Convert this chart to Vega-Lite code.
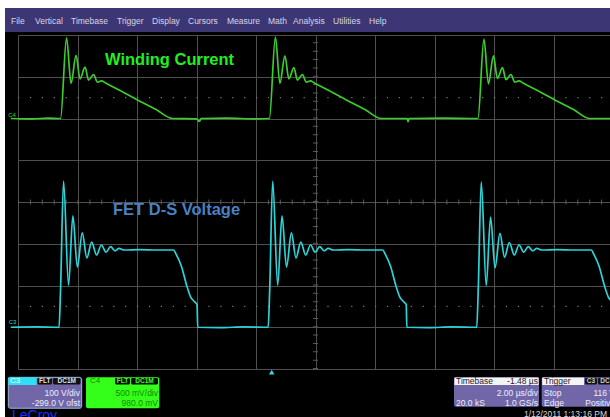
{
"$schema": "https://vega.github.io/schema/vega-lite/v6.json",
"width": 592, "height": 334,
"autosize": "none",
"padding": {"left": 18, "top": 35, "right": 0, "bottom": 48},
"background": "#000000",
"config": {"view": {"stroke": null}, "font": "Liberation Sans", "text": {"font": "Liberation Sans"}},
"data": {"values": [{}]},
"layer": [
{"mark": {"type": "rect", "color": "#ffffff"}, "encoding": {"x": {"datum": -0.61}, "x2": {"datum": -0.437}, "y": {"datum": 8.84}, "y2": {"datum": -1.16}}},
{"mark": {"type": "rect", "color": "#ffffff"}, "encoding": {"x": {"datum": -0.61}, "x2": {"datum": 20.6}, "y": {"datum": 8.84}, "y2": {"datum": 8.647}}},
{"mark": {"type": "rect", "color": "#3d3674"}, "encoding": {"x": {"datum": -0.437}, "x2": {"datum": 20.6}, "y": {"datum": 8.647}, "y2": {"datum": 8.072}}},
{"mark": {"type": "rule", "color": "#7a7a7a", "strokeWidth": 1.2, "strokeDash": [1.2, 10.7]}, "encoding": {"x": {"datum": 0}, "x2": {"datum": 19.899}, "y": {"datum": 6.5}}},
{"mark": {"type": "rule", "color": "#7a7a7a", "strokeWidth": 1.2, "strokeDash": [1.2, 10.7]}, "encoding": {"x": {"datum": 0}, "x2": {"datum": 19.899}, "y": {"datum": 1.5}}},
{"mark": {"type": "rule", "color": "#5a5a5a", "strokeWidth": 5, "strokeDash": [1, 10.9]}, "encoding": {"x": {"datum": 0}, "x2": {"datum": 19.899}, "y": {"datum": 4}}},
{"mark": {"type": "rule", "color": "#5a5a5a", "strokeWidth": 5, "strokeDash": [1, 7.35]}, "encoding": {"x": {"datum": 10}, "y": {"datum": 0}, "y2": {"datum": 8}}},
{"data": {"values": [
{"ch":"C4","t":-0.245,"d":6.0},{"ch":"C4","t":0.5,"d":5.99},{"ch":"C4","t":1.0,"d":6.01},{"ch":"C4","t":1.43,"d":6.0},
{"ch":"C4","t":1.632,"d":7.93},{"ch":"C4","t":1.783,"d":6.84},{"ch":"C4","t":1.951,"d":7.51},{"ch":"C4","t":2.085,"d":6.95},{"ch":"C4","t":2.254,"d":7.23},{"ch":"C4","t":2.371,"d":6.92},{"ch":"C4","t":2.539,"d":7.05},{"ch":"C4","t":2.674,"d":6.87},{"ch":"C4","t":2.808,"d":6.9},{"ch":"C4","t":2.943,"d":6.85},{"ch":"C4","t":3.43,"d":6.67},{"ch":"C4","t":4.03,"d":6.44},{"ch":"C4","t":4.63,"d":6.22},{"ch":"C4","t":5.195,"d":6.0},
{"ch":"C4","t":6.0,"d":5.99},{"ch":"C4","t":6.1,"d":5.93},{"ch":"C4","t":6.15,"d":6.0},{"ch":"C4","t":7.0,"d":6.01},{"ch":"C4","t":8.0,"d":5.99},{"ch":"C4","t":8.45,"d":6.0},
{"ch":"C4","t":8.652,"d":7.95},{"ch":"C4","t":8.803,"d":6.84},{"ch":"C4","t":8.971,"d":7.5},{"ch":"C4","t":9.105,"d":6.95},{"ch":"C4","t":9.274,"d":7.22},{"ch":"C4","t":9.391,"d":6.92},{"ch":"C4","t":9.559,"d":7.05},{"ch":"C4","t":9.694,"d":6.87},{"ch":"C4","t":9.828,"d":6.9},{"ch":"C4","t":9.963,"d":6.85},{"ch":"C4","t":10.45,"d":6.67},{"ch":"C4","t":11.05,"d":6.44},{"ch":"C4","t":11.65,"d":6.22},{"ch":"C4","t":12.215,"d":6.0},
{"ch":"C4","t":13.08,"d":6.0},{"ch":"C4","t":13.11,"d":5.92},{"ch":"C4","t":13.14,"d":6.0},{"ch":"C4","t":14.3,"d":6.01},{"ch":"C4","t":15.46,"d":6.0},
{"ch":"C4","t":15.662,"d":7.9},{"ch":"C4","t":15.813,"d":6.83},{"ch":"C4","t":15.981,"d":7.5},{"ch":"C4","t":16.115,"d":6.96},{"ch":"C4","t":16.284,"d":7.22},{"ch":"C4","t":16.401,"d":6.93},{"ch":"C4","t":16.569,"d":7.05},{"ch":"C4","t":16.704,"d":6.87},{"ch":"C4","t":16.838,"d":6.9},{"ch":"C4","t":16.973,"d":6.85},{"ch":"C4","t":17.46,"d":6.67},{"ch":"C4","t":18.06,"d":6.44},{"ch":"C4","t":18.66,"d":6.22},{"ch":"C4","t":19.225,"d":6.0},{"ch":"C4","t":19.9,"d":6.0},
{"ch":"C3","t":-0.245,"d":1.0},{"ch":"C3","t":0.6,"d":1.01},{"ch":"C3","t":1.38,"d":1.0},
{"ch":"C3","t":1.43,"d":1.89},{"ch":"C3","t":1.531,"d":4.5},{"ch":"C3","t":1.699,"d":2.01},{"ch":"C3","t":1.844,"d":3.67},{"ch":"C3","t":1.995,"d":2.44},{"ch":"C3","t":2.16,"d":3.26},{"ch":"C3","t":2.314,"d":2.66},{"ch":"C3","t":2.476,"d":3.04},{"ch":"C3","t":2.641,"d":2.73},{"ch":"C3","t":2.802,"d":2.97},{"ch":"C3","t":2.96,"d":2.8},{"ch":"C3","t":3.111,"d":2.93},{"ch":"C3","t":3.262,"d":2.83},{"ch":"C3","t":3.397,"d":2.89},{"ch":"C3","t":3.565,"d":2.85},{"ch":"C3","t":4.08,"d":2.86},{"ch":"C3","t":4.68,"d":2.85},{"ch":"C3","t":5.229,"d":2.85},{"ch":"C3","t":5.313,"d":2.75},{"ch":"C3","t":5.498,"d":2.45},{"ch":"C3","t":5.666,"d":2.01},{"ch":"C3","t":5.8,"d":1.73},{"ch":"C3","t":5.935,"d":1.61},{"ch":"C3","t":6.02,"d":1.54},{"ch":"C3","t":6.04,"d":1.0},
{"ch":"C3","t":6.8,"d":0.99},{"ch":"C3","t":7.6,"d":1.01},{"ch":"C3","t":8.41,"d":1.0},
{"ch":"C3","t":8.46,"d":1.89},{"ch":"C3","t":8.561,"d":4.5},{"ch":"C3","t":8.729,"d":2.01},{"ch":"C3","t":8.874,"d":3.67},{"ch":"C3","t":9.025,"d":2.44},{"ch":"C3","t":9.19,"d":3.26},{"ch":"C3","t":9.344,"d":2.66},{"ch":"C3","t":9.506,"d":3.04},{"ch":"C3","t":9.671,"d":2.73},{"ch":"C3","t":9.832,"d":2.97},{"ch":"C3","t":9.99,"d":2.8},{"ch":"C3","t":10.141,"d":2.93},{"ch":"C3","t":10.292,"d":2.83},{"ch":"C3","t":10.427,"d":2.89},{"ch":"C3","t":10.595,"d":2.85},{"ch":"C3","t":11.11,"d":2.86},{"ch":"C3","t":11.71,"d":2.85},{"ch":"C3","t":12.259,"d":2.85},{"ch":"C3","t":12.343,"d":2.75},{"ch":"C3","t":12.528,"d":2.45},{"ch":"C3","t":12.696,"d":2.01},{"ch":"C3","t":12.83,"d":1.73},{"ch":"C3","t":12.965,"d":1.61},{"ch":"C3","t":13.05,"d":1.54},{"ch":"C3","t":13.07,"d":1.0},
{"ch":"C3","t":13.8,"d":0.99},{"ch":"C3","t":14.6,"d":1.01},{"ch":"C3","t":15.42,"d":1.0},
{"ch":"C3","t":15.47,"d":1.89},{"ch":"C3","t":15.571,"d":4.48},{"ch":"C3","t":15.739,"d":2.0},{"ch":"C3","t":15.884,"d":3.64},{"ch":"C3","t":16.035,"d":2.42},{"ch":"C3","t":16.2,"d":3.25},{"ch":"C3","t":16.354,"d":2.68},{"ch":"C3","t":16.516,"d":3.03},{"ch":"C3","t":16.681,"d":2.73},{"ch":"C3","t":16.842,"d":2.97},{"ch":"C3","t":17.0,"d":2.8},{"ch":"C3","t":17.151,"d":2.93},{"ch":"C3","t":17.302,"d":2.83},{"ch":"C3","t":17.437,"d":2.89},{"ch":"C3","t":17.605,"d":2.85},{"ch":"C3","t":18.12,"d":2.86},{"ch":"C3","t":18.72,"d":2.85},{"ch":"C3","t":19.269,"d":2.85},{"ch":"C3","t":19.353,"d":2.75},{"ch":"C3","t":19.538,"d":2.45},{"ch":"C3","t":19.706,"d":2.01},{"ch":"C3","t":19.84,"d":1.73},{"ch":"C3","t":19.975,"d":1.61}
]},
"mark": {"type": "line", "strokeWidth": 1.7, "interpolate": "monotone"},
"encoding": {
"x": {"field": "t", "type": "quantitative", "scale": {"domain": [0, 19.899], "nice": false, "zero": false}, "axis": {"values": [0,2,4,6,8,10,12,14,16,18], "grid": true, "gridColor": "#4f4f4f", "gridOpacity": 1, "gridWidth": 1, "domain": false, "ticks": false, "labels": false, "title": null}},
"y": {"field": "d", "type": "quantitative", "scale": {"domain": [0, 8], "nice": false, "zero": false}, "axis": {"values": [0,1,2,3,4,5,6,7,8], "grid": true, "gridColor": "#4f4f4f", "gridOpacity": 1, "gridWidth": 1, "domain": false, "ticks": false, "labels": false, "title": null}},
"color": {"field": "ch", "type": "nominal", "scale": {"domain": ["C4", "C3"], "range": ["#3ccc2c", "#2cd4da"]}, "legend": null}
}},
{"mark": {"type": "text", "text": "Winding Current", "align": "left", "baseline": "middle", "fontSize": 16.5, "fontWeight": "bold", "color": "#22ee22"}, "encoding": {"x": {"datum": 2.924}, "y": {"datum": 7.401}}},
{"mark": {"type": "text", "text": "FET D-S Voltage", "align": "left", "baseline": "middle", "fontSize": 16.5, "fontWeight": "bold", "color": "#4a80c4"}, "encoding": {"x": {"datum": 3.193}, "y": {"datum": 3.808}}},
{"mark": {"type": "text", "text": "C4", "align": "left", "baseline": "middle", "fontSize": 6, "color": "#38d82a"}, "encoding": {"x": {"datum": -0.33}, "y": {"datum": 6.08}}},
{"mark": {"type": "text", "text": "C3", "align": "left", "baseline": "middle", "fontSize": 6, "color": "#2cd4da"}, "encoding": {"x": {"datum": -0.31}, "y": {"datum": 1.13}}},
{"mark": {"type": "point", "shape": "triangle-up", "filled": true, "size": 30, "color": "#33d6ee", "opacity": 1}, "encoding": {"x": {"datum": 8.528}, "y": {"datum": -0.072}}},
{"mark": {"type": "text", "text": "File", "align": "left", "baseline": "middle", "fontSize": 8.5, "color": "#d6d6e6"}, "encoding": {"x": {"datum": -0.235}, "y": {"datum": 8.347}}},
{"mark": {"type": "text", "text": "Vertical", "align": "left", "baseline": "middle", "fontSize": 8.5, "color": "#d6d6e6"}, "encoding": {"x": {"datum": 0.571}, "y": {"datum": 8.347}}},
{"mark": {"type": "text", "text": "Timebase", "align": "left", "baseline": "middle", "fontSize": 8.5, "color": "#d6d6e6"}, "encoding": {"x": {"datum": 1.782}, "y": {"datum": 8.347}}},
{"mark": {"type": "text", "text": "Trigger", "align": "left", "baseline": "middle", "fontSize": 8.5, "color": "#d6d6e6"}, "encoding": {"x": {"datum": 3.328}, "y": {"datum": 8.347}}},
{"mark": {"type": "text", "text": "Display", "align": "left", "baseline": "middle", "fontSize": 8.5, "color": "#d6d6e6"}, "encoding": {"x": {"datum": 4.504}, "y": {"datum": 8.347}}},
{"mark": {"type": "text", "text": "Cursors", "align": "left", "baseline": "middle", "fontSize": 8.5, "color": "#d6d6e6"}, "encoding": {"x": {"datum": 5.714}, "y": {"datum": 8.347}}},
{"mark": {"type": "text", "text": "Measure", "align": "left", "baseline": "middle", "fontSize": 8.5, "color": "#d6d6e6"}, "encoding": {"x": {"datum": 7.025}, "y": {"datum": 8.347}}},
{"mark": {"type": "text", "text": "Math", "align": "left", "baseline": "middle", "fontSize": 8.5, "color": "#d6d6e6"}, "encoding": {"x": {"datum": 8.403}, "y": {"datum": 8.347}}},
{"mark": {"type": "text", "text": "Analysis", "align": "left", "baseline": "middle", "fontSize": 8.5, "color": "#d6d6e6"}, "encoding": {"x": {"datum": 9.244}, "y": {"datum": 8.347}}},
{"mark": {"type": "text", "text": "Utilities", "align": "left", "baseline": "middle", "fontSize": 8.5, "color": "#d6d6e6"}, "encoding": {"x": {"datum": 10.588}, "y": {"datum": 8.347}}},
{"mark": {"type": "text", "text": "Help", "align": "left", "baseline": "middle", "fontSize": 8.5, "color": "#d6d6e6"}, "encoding": {"x": {"datum": 11.798}, "y": {"datum": 8.347}}},
{"mark": {"type": "rect", "color": "#7066a8", "stroke": "#a8d8f0", "strokeWidth": 0.8, "cornerRadius": 2}, "encoding": {"x": {"datum": -0.326}, "x2": {"datum": 2.141}, "y": {"datum": -0.199}, "y2": {"datum": -0.941}}},
{"mark": {"type": "rect", "color": "#2fe0f5"}, "encoding": {"x": {"datum": -0.326}, "x2": {"datum": 0.629}, "y": {"datum": -0.199}, "y2": {"datum": -0.383}}},
{"mark": {"type": "rect", "color": "#101010", "cornerRadius": 1.5}, "encoding": {"x": {"datum": 0.655}, "x2": {"datum": 1.143}, "y": {"datum": -0.216}, "y2": {"datum": -0.371}}},
{"mark": {"type": "rect", "color": "#101010", "cornerRadius": 1.5}, "encoding": {"x": {"datum": 1.176}, "x2": {"datum": 2.101}, "y": {"datum": -0.216}, "y2": {"datum": -0.371}}},
{"mark": {"type": "text", "text": "C3", "align": "left", "baseline": "middle", "fontSize": 8, "color": "#ffffff"}, "encoding": {"x": {"datum": -0.269}, "y": {"datum": -0.29}}},
{"mark": {"type": "text", "text": "FLT", "align": "center", "baseline": "middle", "fontSize": 6.5, "fontWeight": "bold", "color": "#e0e0e0"}, "encoding": {"x": {"datum": 0.899}, "y": {"datum": -0.29}}},
{"mark": {"type": "text", "text": "DC1M", "align": "center", "baseline": "middle", "fontSize": 6.5, "fontWeight": "bold", "color": "#e0e0e0"}, "encoding": {"x": {"datum": 1.637}, "y": {"datum": -0.29}}},
{"mark": {"type": "text", "text": "100 V/div", "align": "right", "baseline": "middle", "fontSize": 8.5, "color": "#eeeeff"}, "encoding": {"x": {"datum": 2.084}, "y": {"datum": -0.575}}},
{"mark": {"type": "text", "text": "-299.0 V ofst", "align": "right", "baseline": "middle", "fontSize": 8.5, "color": "#eeeeff"}, "encoding": {"x": {"datum": 2.084}, "y": {"datum": -0.81}}},
{"mark": {"type": "rect", "color": "#33ff1a", "cornerRadius": 2}, "encoding": {"x": {"datum": 2.286}, "x2": {"datum": 4.75}, "y": {"datum": -0.199}, "y2": {"datum": -0.941}}},
{"mark": {"type": "rect", "color": "#0d0d0d", "cornerRadius": 1.5}, "encoding": {"x": {"datum": 3.261}, "x2": {"datum": 3.765}, "y": {"datum": -0.216}, "y2": {"datum": -0.371}}},
{"mark": {"type": "rect", "color": "#0d0d0d", "cornerRadius": 1.5}, "encoding": {"x": {"datum": 3.798}, "x2": {"datum": 4.706}, "y": {"datum": -0.216}, "y2": {"datum": -0.371}}},
{"mark": {"type": "text", "text": "C4", "align": "left", "baseline": "middle", "fontSize": 8, "color": "#138a00"}, "encoding": {"x": {"datum": 2.42}, "y": {"datum": -0.29}}},
{"mark": {"type": "text", "text": "FLT", "align": "center", "baseline": "middle", "fontSize": 6.5, "fontWeight": "bold", "color": "#33ff1a"}, "encoding": {"x": {"datum": 3.513}, "y": {"datum": -0.29}}},
{"mark": {"type": "text", "text": "DC1M", "align": "center", "baseline": "middle", "fontSize": 6.5, "fontWeight": "bold", "color": "#33ff1a"}, "encoding": {"x": {"datum": 4.252}, "y": {"datum": -0.29}}},
{"mark": {"type": "text", "text": "500 mV/div", "align": "right", "baseline": "middle", "fontSize": 8.5, "color": "#148800"}, "encoding": {"x": {"datum": 4.706}, "y": {"datum": -0.575}}},
{"mark": {"type": "text", "text": "980.0 mV", "align": "right", "baseline": "middle", "fontSize": 8.5, "color": "#148800"}, "encoding": {"x": {"datum": 4.706}, "y": {"datum": -0.81}}},
{"mark": {"type": "text", "text": "LeCroy", "align": "left", "baseline": "top", "fontSize": 14, "color": "#1f2fff"}, "encoding": {"x": {"datum": -0.202}, "y": {"datum": -0.958}}},
{"mark": {"type": "rect", "color": "#7066a8", "cornerRadius": 2}, "encoding": {"x": {"datum": 14.655}, "x2": {"datum": 17.513}, "y": {"datum": -0.199}, "y2": {"datum": -0.903}}},
{"mark": {"type": "rect", "color": "#f4f4f4"}, "encoding": {"x": {"datum": 14.67}, "x2": {"datum": 17.5}, "y": {"datum": -0.205}, "y2": {"datum": -0.383}}},
{"mark": {"type": "text", "text": "Timebase", "align": "left", "baseline": "middle", "fontSize": 8.5, "color": "#1a1a2a"}, "encoding": {"x": {"datum": 14.723}, "y": {"datum": -0.29}}},
{"mark": {"type": "text", "text": "-1.48 µs", "align": "right", "baseline": "middle", "fontSize": 8.5, "color": "#1a1a2a"}, "encoding": {"x": {"datum": 17.479}, "y": {"datum": -0.29}}},
{"mark": {"type": "text", "text": "2.00 µs/div", "align": "right", "baseline": "middle", "fontSize": 8.5, "color": "#eeeeff"}, "encoding": {"x": {"datum": 17.479}, "y": {"datum": -0.575}}},
{"mark": {"type": "text", "text": "20.0 kS", "align": "left", "baseline": "middle", "fontSize": 8.5, "color": "#eeeeff"}, "encoding": {"x": {"datum": 14.723}, "y": {"datum": -0.807}}},
{"mark": {"type": "text", "text": "1.0 GS/s", "align": "right", "baseline": "middle", "fontSize": 8.5, "color": "#eeeeff"}, "encoding": {"x": {"datum": 17.479}, "y": {"datum": -0.807}}},
{"mark": {"type": "rect", "color": "#7066a8", "cornerRadius": 2}, "encoding": {"x": {"datum": 17.603}, "x2": {"datum": 20.403}, "y": {"datum": -0.199}, "y2": {"datum": -0.903}}},
{"mark": {"type": "rect", "color": "#f4f4f4"}, "encoding": {"x": {"datum": 17.62}, "x2": {"datum": 19.025}, "y": {"datum": -0.205}, "y2": {"datum": -0.383}}},
{"mark": {"type": "rect", "color": "#111111", "cornerRadius": 1.5}, "encoding": {"x": {"datum": 19.059}, "x2": {"datum": 19.462}, "y": {"datum": -0.216}, "y2": {"datum": -0.371}}},
{"mark": {"type": "rect", "color": "#111111", "cornerRadius": 1.5}, "encoding": {"x": {"datum": 19.496}, "x2": {"datum": 19.966}, "y": {"datum": -0.216}, "y2": {"datum": -0.371}}},
{"mark": {"type": "text", "text": "Trigger", "align": "left", "baseline": "middle", "fontSize": 8.5, "color": "#1a1a2a"}, "encoding": {"x": {"datum": 17.681}, "y": {"datum": -0.29}}},
{"mark": {"type": "text", "text": "C3", "align": "center", "baseline": "middle", "fontSize": 6.5, "fontWeight": "bold", "color": "#d0d0d0"}, "encoding": {"x": {"datum": 19.26}, "y": {"datum": -0.29}}},
{"mark": {"type": "text", "text": "DC", "align": "center", "baseline": "middle", "fontSize": 6.5, "fontWeight": "bold", "color": "#d0d0d0"}, "encoding": {"x": {"datum": 19.73}, "y": {"datum": -0.29}}},
{"mark": {"type": "text", "text": "Stop", "align": "left", "baseline": "middle", "fontSize": 8.5, "color": "#eeeeff"}, "encoding": {"x": {"datum": 17.681}, "y": {"datum": -0.575}}},
{"mark": {"type": "text", "text": "116 V", "align": "right", "baseline": "middle", "fontSize": 8.5, "color": "#eeeeff"}, "encoding": {"x": {"datum": 20.067}, "y": {"datum": -0.575}}},
{"mark": {"type": "text", "text": "Edge", "align": "left", "baseline": "middle", "fontSize": 8.5, "color": "#eeeeff"}, "encoding": {"x": {"datum": 17.681}, "y": {"datum": -0.807}}},
{"mark": {"type": "text", "text": "Positive", "align": "right", "baseline": "middle", "fontSize": 8.5, "color": "#eeeeff"}, "encoding": {"x": {"datum": 20.067}, "y": {"datum": -0.807}}},
{"mark": {"type": "text", "text": "1/12/2011 1:13:16 PM", "align": "right", "baseline": "middle", "fontSize": 8.5, "color": "#d8d8d8"}, "encoding": {"x": {"datum": 19.798}, "y": {"datum": -1.078}}}
]
}
